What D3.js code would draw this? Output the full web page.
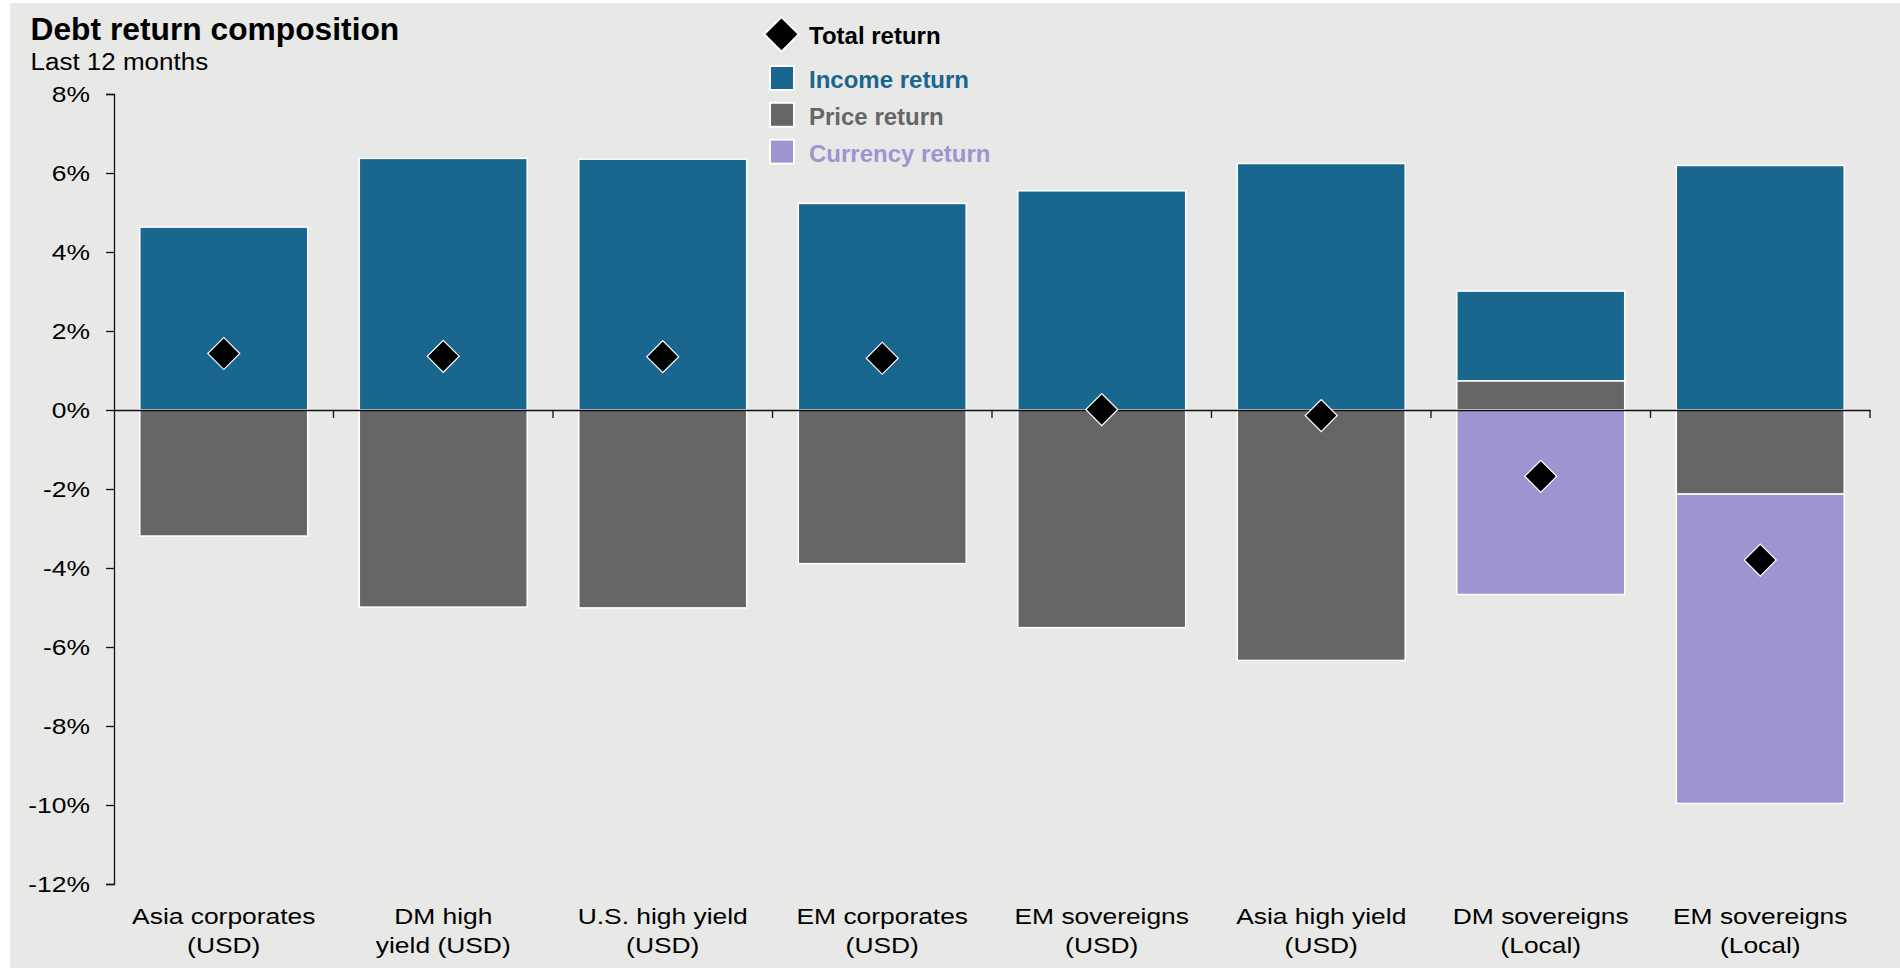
<!DOCTYPE html>
<html>
<head>
<meta charset="utf-8">
<script src="https://cdn.jsdelivr.net/npm/d3@7"></script>
<style>
  html, body { margin: 0; padding: 0; background: #ffffff; }
  svg { display: block; font-family: "Liberation Sans", Arial, Helvetica, sans-serif; }
</style>
</head>
<body>
<svg id="chart" width="1900" height="974"></svg>
<script>
// Debt return composition, last 12 months (% returns)
const categories = [
  "Asia corporates\n(USD)",
  "DM high\nyield (USD)",
  "U.S. high yield\n(USD)",
  "EM corporates\n(USD)",
  "EM sovereigns\n(USD)",
  "Asia high yield\n(USD)",
  "DM sovereigns\n(Local)",
  "EM sovereigns\n(Local)"
];
const incomeReturn   = [4.63, 6.37, 6.35, 5.23, 5.55, 6.24, 2.27, 6.19];
const priceReturn    = [-3.19, -4.99, -5.01, -3.89, -5.51, -6.34, 0.74, -2.13];
const currencyReturn = [0, 0, 0, 0, 0, 0, -4.67, -7.83];
const totalReturn    = [1.43, 1.36, 1.35, 1.31, 0.01, -0.14, -1.68, -3.80];
const yTicks = [-12, -10, -8, -6, -4, -2, 0, 2, 4, 6, 8];

const seriesKeys = ["price", "income", "currency"];
const seriesNames = { income: "Income return", price: "Price return", currency: "Currency return" };
const colors = { income: "#19668f", price: "#666666", currency: "#9f93d2" };

const rows = categories.map((c, i) => ({
  category: c,
  income: incomeReturn[i],
  price: priceReturn[i],
  currency: currencyReturn[i],
  total: totalReturn[i]
}));

const svg = d3.select("#chart");

// panel background
svg.append("rect")
  .attr("x", 10).attr("y", 3)
  .attr("width", 1890).attr("height", 965)
  .attr("fill", "#e8e8e6");

const plot = { left: 114, right: 1870, top: 94, bottom: 884 };

const x = d3.scaleBand()
  .domain(categories)
  .range([plot.left, plot.right])
  .paddingInner(0.235)
  .paddingOuter(0.1175);

const y = d3.scaleLinear()
  .domain([-12, 8])
  .range([plot.bottom, plot.top]);

// stacked components; positives and negatives stack away from zero
const stacked = d3.stack()
  .keys(seriesKeys)
  .offset(d3.stackOffsetDiverging)(rows);

const layers = svg.append("g").selectAll("g")
  .data(stacked)
  .join("g")
  .attr("fill", d => colors[d.key]);

layers.selectAll("rect")
  .data(d => d.filter(p => p[1] !== p[0]))
  .join("rect")
  .attr("x", d => x(d.data.category))
  .attr("width", x.bandwidth())
  .attr("y", d => y(Math.max(d[0], d[1])))
  .attr("height", d => Math.abs(y(d[0]) - y(d[1])))
  .attr("stroke", "#ffffff")
  .attr("stroke-width", 1.5);

// y axis
const yAxis = svg.append("g")
  .attr("transform", `translate(${plot.left},0)`)
  .call(d3.axisLeft(y)
    .tickValues(yTicks)
    .tickFormat(d => d + "%")
    .tickSize(8)
    .tickSizeOuter(8));
yAxis.select(".domain").attr("stroke", "#111").attr("stroke-width", 1.3);
yAxis.selectAll(".tick line").attr("stroke", "#111").attr("stroke-width", 1.3);
yAxis.selectAll(".tick text")
  .attr("x", null)
  .attr("dy", "0.35em")
  .attr("transform", "translate(-24,0) scale(1.23,1)")
  .attr("font-size", 21.5)
  .attr("font-family", "Liberation Sans, Arial, sans-serif")
  .attr("fill", "#000");

// zero line with category boundary ticks
const step = x.step();
const zeroAxis = svg.append("g")
  .attr("transform", `translate(0,${y(0)})`)
  .call(d3.axisBottom(x).tickSize(0).tickSizeOuter(0).tickFormat(""));
zeroAxis.select(".domain").attr("stroke", "#111").attr("stroke-width", 1.3);
zeroAxis.selectAll(".tick").remove();
zeroAxis.selectAll("line.boundary")
  .data(categories)
  .join("line")
  .attr("class", "boundary")
  .attr("x1", d => x(d) + x.bandwidth() / 2 + step / 2)
  .attr("x2", d => x(d) + x.bandwidth() / 2 + step / 2)
  .attr("y1", 0).attr("y2", 8)
  .attr("stroke", "#111").attr("stroke-width", 1.3);

// category labels
const catLabels = svg.append("g").selectAll("text")
  .data(categories)
  .join("text")
  .attr("text-anchor", "middle")
  .attr("font-size", 22)
  .attr("fill", "#000")
  .attr("transform", d => `translate(${x(d) + x.bandwidth() / 2},924) scale(1.2,1)`);
catLabels.selectAll("tspan")
  .data(d => d.split("\n"))
  .join("tspan")
  .attr("x", 0)
  .attr("dy", (d, i) => i === 0 ? 0 : 29.5)
  .text(d => d);

// total return diamonds
const diamond = d3.symbol().type(d3.symbolSquare).size(512);
svg.append("g").selectAll("path")
  .data(rows)
  .join("path")
  .attr("d", diamond)
  .attr("transform", d => `translate(${x(d.category) + x.bandwidth() / 2},${y(d.total)}) rotate(45)`)
  .attr("fill", "#000")
  .attr("stroke", "#ffffff")
  .attr("stroke-width", 1.2);

// title
svg.append("text")
  .attr("transform", "translate(30.5,40) scale(1.025,1)")
  .attr("font-size", 31)
  .attr("font-weight", "bold")
  .attr("fill", "#000")
  .text("Debt return composition");
svg.append("text")
  .attr("transform", "translate(30.5,70) scale(1.13,1)")
  .attr("font-size", 23)
  .attr("fill", "#000")
  .text("Last 12 months");

// legend
const legend = svg.append("g");
legend.append("path")
  .attr("d", d3.symbol().type(d3.symbolSquare).size(600))
  .attr("transform", "translate(781.5,34.3) rotate(45)")
  .attr("fill", "#000")
  .attr("stroke", "#ffffff")
  .attr("stroke-width", 2);
legend.append("text")
  .attr("x", 809).attr("y", 44.3)
  .attr("font-size", 24).attr("font-weight", "bold")
  .attr("fill", "#000")
  .text("Total return");

const legendKeys = ["income", "price", "currency"];
const legendRows = legend.selectAll("g.item")
  .data(legendKeys)
  .join("g")
  .attr("class", "item")
  .attr("transform", (d, i) => `translate(0,${78 + i * 36.8})`);
legendRows.append("rect")
  .attr("x", 770).attr("y", -12)
  .attr("width", 24).attr("height", 24)
  .attr("fill", d => colors[d])
  .attr("stroke", "#ffffff")
  .attr("stroke-width", 2);
legendRows.append("text")
  .attr("x", 809).attr("y", 10.3)
  .attr("font-size", 24).attr("font-weight", "bold")
  .attr("fill", d => colors[d])
  .text(d => seriesNames[d]);
</script>
</body>
</html>
